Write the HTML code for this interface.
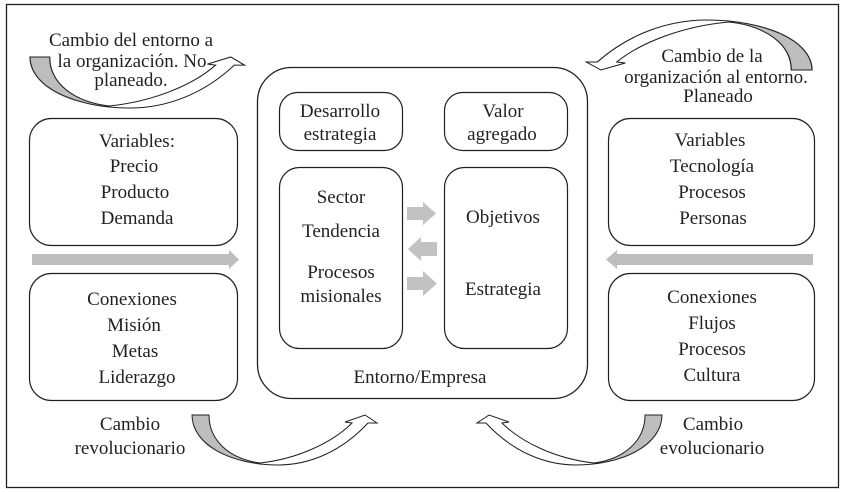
<!DOCTYPE html>
<html>
<head>
<meta charset="utf-8">
<style>
html,body{margin:0;padding:0;background:#fff;}
#wrap{position:relative;width:845px;height:492px;overflow:hidden;}
svg{display:block;position:absolute;left:0;top:0;}
.t{position:absolute;width:300px;margin-top:1px;text-align:center;white-space:nowrap;font-family:"Liberation Serif","Times New Roman",Times,serif;font-size:19px;line-height:19px;color:#231f20;}
</style>
</head>
<body>
<div id="wrap">
<svg width="845" height="492" viewBox="0 0 845 492" xmlns="http://www.w3.org/2000/svg">
<defs>
  <g id="carrow">
    <path d="M0,0 L17,0 C17,26 38,44 68,48 C30,46 0,28 0,0 Z" fill="#bdbdbd"/>
    <path d="M0,0 L17,0 C17,26 38,44 68,48 C105,44 140,28 160,8 L153,7 L173,0 L185,8 L176,8 C150,36 118,50 86,50 C40,50 0,30 0,0 Z" fill="none" stroke="#231f20" stroke-width="1" stroke-linejoin="miter"/>
  </g>
</defs>

<rect x="6.5" y="4.5" width="832" height="483" fill="#fff" stroke="#231f20" stroke-width="1.3"/>

<rect x="29.5" y="118.5" width="208" height="127" rx="22" ry="22" fill="none" stroke="#231f20" stroke-width="1.2"/>
<rect x="29.5" y="273.5" width="208" height="127" rx="22" ry="22" fill="none" stroke="#231f20" stroke-width="1.2"/>

<rect x="608.5" y="118.5" width="206" height="127" rx="22" ry="22" fill="none" stroke="#231f20" stroke-width="1.2"/>
<rect x="608.5" y="273.5" width="206" height="127" rx="22" ry="22" fill="none" stroke="#231f20" stroke-width="1.2"/>

<rect x="257.5" y="67.5" width="330" height="331" rx="34" ry="34" fill="none" stroke="#231f20" stroke-width="1.3"/>
<rect x="279.5" y="92.5" width="123" height="58" rx="18" ry="18" fill="none" stroke="#231f20" stroke-width="1.2"/>
<rect x="444.5" y="92.5" width="123" height="58" rx="18" ry="18" fill="none" stroke="#231f20" stroke-width="1.2"/>
<rect x="279.5" y="167.5" width="123" height="181" rx="20" ry="20" fill="none" stroke="#231f20" stroke-width="1.2"/>
<rect x="444.5" y="167.5" width="123" height="181" rx="20" ry="20" fill="none" stroke="#231f20" stroke-width="1.2"/>

<polygon points="32,254 229,254 229,250 239,259.5 229,269 229,265 32,265" fill="#bdbdbd"/>
<polygon points="813,254 617,254 617,250 606,259.5 617,269 617,265 813,265" fill="#bdbdbd"/>

<polygon points="407,207 423,207 423,202 436,213.5 423,225 423,220 407,220" fill="#c2c2c2"/>
<polygon points="437,242 421,242 421,237 408,249 421,261 421,256 437,256" fill="#c2c2c2"/>
<polygon points="407,277 423,277 423,271 437,283.5 423,296 423,290 407,290" fill="#c2c2c2"/>

<use href="#carrow" transform="translate(30,57) scale(1.16,1.02)"/>
<use href="#carrow" transform="translate(812,70) scale(-1.22,-1)"/>
<use href="#carrow" transform="translate(192,415)"/>
<use href="#carrow" transform="translate(662,415) scale(-1,1)"/>
</svg>

<div class="t" style="left:-19px;top:30px">Cambio del entorno a</div>
<div class="t" style="left:-18px;top:51px">la organización. No</div>
<div class="t" style="left:-19px;top:70px">planeado.</div>

<div class="t" style="left:562px;top:46px">Cambio de la</div>
<div class="t" style="left:566px;top:67px">organización al entorno.</div>
<div class="t" style="left:568px;top:86px">Planeado</div>

<div class="t" style="left:-13px;top:131px">Variables:</div>
<div class="t" style="left:-16px;top:156px">Precio</div>
<div class="t" style="left:-15px;top:182px">Producto</div>
<div class="t" style="left:-13px;top:208px">Demanda</div>

<div class="t" style="left:-18px;top:289px">Conexiones</div>
<div class="t" style="left:-16px;top:315px">Misión</div>
<div class="t" style="left:-15px;top:341px">Metas</div>
<div class="t" style="left:-13px;top:367px">Liderazgo</div>

<div class="t" style="left:560px;top:130px">Variables</div>
<div class="t" style="left:562px;top:156px">Tecnología</div>
<div class="t" style="left:562px;top:182px">Procesos</div>
<div class="t" style="left:563px;top:208px">Personas</div>

<div class="t" style="left:562px;top:287px">Conexiones</div>
<div class="t" style="left:562px;top:313px">Flujos</div>
<div class="t" style="left:562px;top:339px">Procesos</div>
<div class="t" style="left:562px;top:365px">Cultura</div>

<div class="t" style="left:190px;top:101px">Desarrollo</div>
<div class="t" style="left:190px;top:124px">estrategia</div>
<div class="t" style="left:353px;top:101px">Valor</div>
<div class="t" style="left:352px;top:124px">agregado</div>

<div class="t" style="left:191px;top:187px">Sector</div>
<div class="t" style="left:191px;top:221px">Tendencia</div>
<div class="t" style="left:191px;top:262px">Procesos</div>
<div class="t" style="left:191px;top:286px">misionales</div>

<div class="t" style="left:353px;top:207px">Objetivos</div>
<div class="t" style="left:353px;top:279px">Estrategia</div>

<div class="t" style="left:270px;top:367px">Entorno/Empresa</div>

<div class="t" style="left:-20px;top:414px">Cambio</div>
<div class="t" style="left:-20px;top:438px">revolucionario</div>
<div class="t" style="left:563px;top:414px">Cambio</div>
<div class="t" style="left:562px;top:438px">evolucionario</div>
</div>
</body>
</html>
